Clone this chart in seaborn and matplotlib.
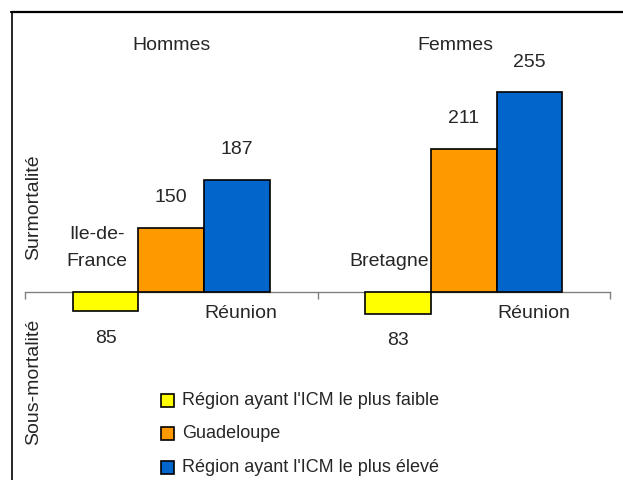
import matplotlib
matplotlib.use("Agg")
import matplotlib.pyplot as plt
import seaborn as sns
import pandas as pd
from matplotlib.lines import Line2D
from matplotlib.patches import Rectangle

sns.set_theme(style="white")
plt.rcParams['font.family'] = ['Liberation Sans Narrow', 'Liberation Sans', 'DejaVu Sans']

# ---- data ----
sexes = ["Hommes", "Femmes"]
series = ["Région ayant l'ICM le plus faible", "Guadeloupe", "Région ayant l'ICM le plus élevé"]
faible = [85, 83]
guadeloupe = [150, 211]
eleve = [187, 255]
regions_faible = ["Ile-de-\nFrance", "Bretagne"]
regions_eleve = ["Réunion", "Réunion"]
colors = ["#FFFF00", "#FF9900", "#0066CC"]
base = 100

rows = []
for i, s in enumerate(sexes):
    for name, vals in zip(series, [faible, guadeloupe, eleve]):
        rows.append({"sexe": s, "serie": name, "icm": vals[i], "ecart": vals[i] - base})
df = pd.DataFrame(rows)

W, H = 623, 481
fig = plt.figure(figsize=(W / 100, H / 100), dpi=100)
# axes: x from 25px to 610px, y from 20px to 470px
ax = fig.add_axes([25 / W, 1 - 470 / H, (610 - 25) / W, (470 - 20) / H])
ppu = 1.29
ax.set_ylim(-(470 - 293) / ppu, (293 - 20) / ppu)

sns.barplot(data=df, x="sexe", y="ecart", hue="serie", order=sexes, hue_order=series,
            palette=colors, saturation=1, width=0.674, edgecolor="black", linewidth=1.2,
            legend=False, ax=ax, zorder=3)
ax.set_xlim(-0.5, 1.5)

for sp in ["top", "right", "left"]:
    ax.spines[sp].set_visible(False)
ax.spines["bottom"].set_position(("data", 0))
ax.spines["bottom"].set_color("#808080")
ax.spines["bottom"].set_linewidth(1.0)
ax.spines["bottom"].set_zorder(2)
ax.set_xticks([-0.5, 0.5, 1.5])
ax.set_xticklabels([])
ax.tick_params(axis="x", direction="out", length=5, color="#808080", width=1, bottom=True)
ax.set_yticks([])
ax.set_xlabel("")
ax.set_ylabel("")

fs = 14
bw = 0.674 / 3
dx = 1 / 292.5  # one pixel in x data units
for i, s in enumerate(sexes):
    ax.text(i - 0.03 * (i == 1), (293 - 45) / ppu, s, ha="center", va="center", fontsize=fs)
    cx = [i - bw, i, i + bw]
    # values above bars
    ax.text(cx[1], guadeloupe[i] - base + 31 / ppu, str(guadeloupe[i]), ha="center", va="center", fontsize=fs)
    ax.text(cx[2], eleve[i] - base + 31 / ppu, str(eleve[i]), ha="center", va="center", fontsize=fs)
    # value below low bar
    ax.text(cx[0], faible[i] - base - 26 / ppu, str(faible[i]), ha="center", va="center", fontsize=fs)
    # region names
    ax.text(cx[0] - 9 * dx, 23 / ppu, regions_faible[i], ha="center", va="bottom", fontsize=fs,
            linespacing=1.75)
    ax.text(cx[2] + 4 * dx, -20 / ppu, regions_eleve[i], ha="center", va="center", fontsize=fs)

# side labels
fig.text(34 / W, 1 - 207 / H, "Surmortalité", rotation=90, ha="center", va="center", fontsize=fs)
fig.text(34 / W, 1 - 382 / H, "Sous-mortalité", rotation=90, ha="center", va="center", fontsize=fs)

# legend
for k, (name, col) in enumerate(zip(series, colors)):
    yc = [401, 434, 468][k]
    fig.add_artist(Rectangle((161 / W, 1 - (yc + 7) / H), 13 / W, 13 / H, facecolor=col,
                             edgecolor="black", linewidth=1.2, transform=fig.transFigure))
    fig.text(182 / W, 1 - yc / H, name, ha="left", va="center", fontsize=13)

# frame
fig.add_artist(Line2D([11 / W, 1.0], [1 - 13 / H, 1 - 13 / H], color="black", linewidth=1.6,
                      transform=fig.transFigure))
fig.add_artist(Line2D([12 / W, 12 / W], [1 - 13 / H, 0], color="black", linewidth=1.2,
                      transform=fig.transFigure))

fig.savefig("out.png", dpi=100)
